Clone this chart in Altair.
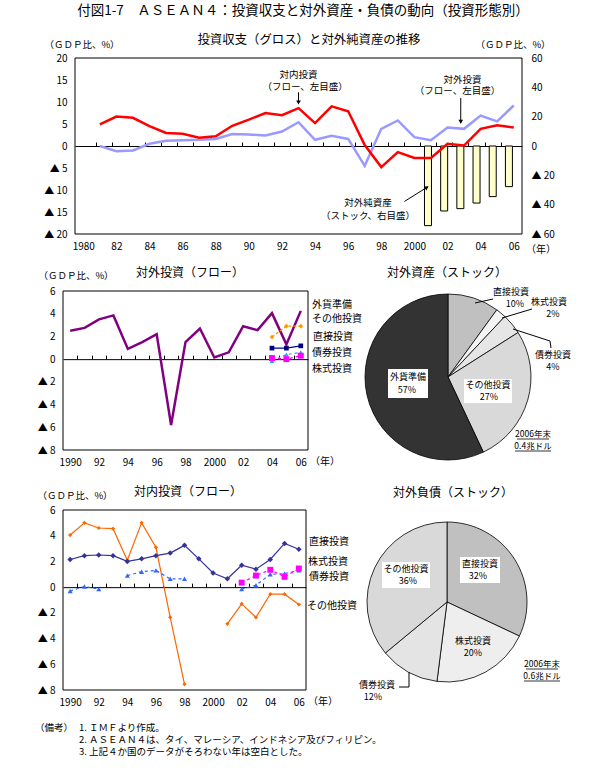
import altair as alt
import pandas as pd

FONT = "Noto Sans CJK JP"
CW, CH = 605, 771

# ---------------- data ----------------
years_top = list(range(1981, 2007))
inward_gross = [4.9, 6.7, 6.4, 4.5, 2.95, 2.8, 1.9, 2.2, 4.6, 6.0, 7.5, 7.0, 8.6, 5.2,
                9.0, 7.9, 0.2, -4.8, -1.4, -2.7, -2.7, 0.5, 0.1, 3.9, 4.7, 4.2]
outward_gross = [0.0, -1.2, -1.0, 0.5, 1.2, 1.3, 1.4, 1.6, 2.7, 2.6, 2.4, 3.3, 5.4, 1.4,
                 2.3, 1.6, -4.5, 3.9, 5.8, 2.0, 1.3, 4.2, 3.9, 6.9, 5.6, 9.2]
years_net = [2001, 2002, 2003, 2004, 2005, 2006]
net_external_assets = [-54.3, -44.3, -42.7, -38.9, -34.5, -27.7]

years_flow = list(range(1990, 2007))
out_reserves = [2.5, 2.75, 3.5, 3.85, 0.9, 1.5, 2.2, -5.8, 1.5, 2.7, 0.15, 0.6, 2.9,
                2.55, 4.05, 1.3, 4.25]
years_out_detail = [2004, 2005, 2006]
out_other = [1.95, 2.9, 2.9]
out_direct = [0.97, 0.97, 1.17]
out_bond = [-0.15, 0.4, 0.6]
out_equity = [0.1, 0.0, 0.3]

in_direct = [2.15, 2.45, 2.5, 2.45, 2.0, 2.2, 2.45, 2.65, 3.25, 2.2, 1.1, 0.65, 1.7,
             1.4, 2.15, 3.4, 2.95]
in_other = [4.05, 5.0, 4.6, 4.55, 2.1, 5.0, 3.1, -2.35, -7.55, None, None, -2.85, -1.3,
            -2.35, -0.55, -0.55, -1.35]
in_bond = [-0.3, 0.05, -0.15, None, 0.9, 1.2, 1.3, 0.65, 0.65, None, None, None, -0.15,
           0.15, 1.0, 1.05, 1.3]
in_equity = [None] * 12 + [0.35, 0.9, 1.35, 0.8, 1.45]

top_xlabels = ["1980", "82", "84", "86", "88", "90", "92", "94", "96", "98", "2000",
               "02", "04", "06"]
flow_xlabels = ["1990", "92", "94", "96", "98", "2000", "02", "04", "06"]

asset_cats = ["直接投資", "株式投資", "債券投資", "その他投資", "外貨準備"]
asset_shares = [10, 2, 4, 27, 57]
asset_colors = ["#c0c0c0", "#f4f4f4", "#e6e6e6", "#d9d9d9", "#333333"]
liab_cats = ["直接投資", "株式投資", "債券投資", "その他投資"]
liab_shares = [32, 20, 12, 36]
liab_colors = ["#c0c0c0", "#eeeeee", "#e4e4e4", "#d9d9d9"]

note_head = "（備考）"
note_lines = ["1.  ＩＭＦより作成。",
              "2.  ＡＳＥＡＮ４は、タイ、マレーシア、インドネシア及びフィリピン。",
              "3.  上記４か国のデータがそろわない年は空白とした。"]

# ---------------- panel frames (pixels) ----------------
P1 = dict(x0=75, x1=522, y0=58, y1=234)
P2 = dict(x0=63, x1=308, y0=291, y1=450)
P3 = dict(x0=63, x1=306, y0=510, y1=690)
PIE1 = (448, 377, 83)
PIE2 = (447, 602, 80)


# ---------------- helpers ----------------
def series_df(years, values):
    rows, seg = [], 0
    for y, v in zip(years, values):
        if v is None:
            seg += 1
            continue
        rows.append({"year": y, "value": v, "seg": seg})
    return pd.DataFrame(rows)


def xs(dom, P):
    return alt.Scale(domain=dom, range=[P["x0"], P["x1"]], nice=False, zero=False)


def ys(dom, P):
    return alt.Scale(domain=dom, range=[P["y1"], P["y0"]], nice=False, zero=False)


def label_axis(labels, start, P, pad):
    arr = "[" + ",".join("'%s'" % s for s in labels) + "]"
    return alt.Axis(orient="bottom", offset=P["y1"] - CH,
                    values=[start + 2 * i for i in range(len(labels))],
                    labelExpr=arr + "[round((datum.value - %d) / 2)]" % start,
                    ticks=False, domain=False, grid=False, labelPadding=pad,
                    title=None, labelFlush=False, labelOverlap=False)


def zero_axis(ypix, start, end):
    return alt.Axis(orient="top", offset=-ypix,
                    values=[y + 0.5 for y in range(start, end)],
                    labels=False, ticks=True, tickSize=4, tickColor="black",
                    domain=True, domainColor="black", domainWidth=1,
                    grid=False, title=None)


def tri_axis(vals, xpix, orient="left", pad=8):
    off = -xpix if orient == "left" else xpix - CW
    return alt.Axis(orient=orient, offset=off, values=list(vals),
                    labelExpr="datum.value < 0 ? '▲ ' + (-datum.value) : '' + datum.value",
                    ticks=False, domain=False, grid=False, labelPadding=pad,
                    title=None)


def pix_text(items, size=10, align="center"):
    df = pd.DataFrame(items, columns=["t", "px", "py"])
    return alt.Chart(df).mark_text(font=FONT, fontSize=size, align=align,
                                   baseline="middle", color="black").encode(
        x=alt.X("px:Q", scale=None, axis=None),
        y=alt.Y("py:Q", scale=None, axis=None),
        text="t:N")


def pix_rule(items, width=1.0):
    df = pd.DataFrame(items, columns=["x", "y", "x2", "y2"])
    return alt.Chart(df).mark_rule(color="black", strokeWidth=width).encode(
        x=alt.X("x:Q", scale=None, axis=None), y=alt.Y("y:Q", scale=None, axis=None),
        x2="x2:Q", y2="y2:Q")


def pix_rect(items, fill="white", stroke="transparent"):
    df = pd.DataFrame(items, columns=["x", "y", "x2", "y2"])
    return alt.Chart(df).mark_rect(fill=fill, stroke=stroke, strokeWidth=1).encode(
        x=alt.X("x:Q", scale=None, axis=None), y=alt.Y("y:Q", scale=None, axis=None),
        x2="x2:Q", y2="y2:Q")


def frame(P):
    return pix_rect([(P["x0"], P["y0"], P["x1"], P["y1"])], fill="transparent",
                    stroke="black")


# ---------------- top panel ----------------
XD1, YL1, YR1 = [1979.5, 2006.5], [-20, 20], [-60, 60]
ZERO1 = P1["y0"] + (P1["y1"] - P1["y0"]) / 2

df_net = pd.DataFrame({"year": years_net, "value": net_external_assets})
bars = alt.Chart(df_net).mark_bar(size=7, color="#ffffcc", stroke="black",
                                   strokeWidth=1).encode(
    x=alt.X("year:Q", scale=xs(XD1, P1), axis=zero_axis(ZERO1, 1980, 2006)),
    y=alt.Y("value:Q", scale=ys(YR1, P1),
            axis=tri_axis(range(-60, 61, 20), P1["x1"], "right", 9)),
    y2=alt.datum(0))

blue_top = alt.Chart(series_df(years_top, outward_gross)).mark_line(
    color="#9999ff", strokeWidth=2.5).encode(
    x=alt.X("year:Q", scale=xs(XD1, P1), axis=label_axis(top_xlabels, 1980, P1, 7)),
    y=alt.Y("value:Q", scale=ys(YL1, P1), axis=tri_axis(range(-20, 21, 5), P1["x0"])))
red_top = alt.Chart(series_df(years_top, inward_gross)).mark_line(
    color="#ff0000", strokeWidth=2.5).encode(
    x=alt.X("year:Q", scale=xs(XD1, P1), axis=None),
    y=alt.Y("value:Q", scale=ys(YL1, P1), axis=None))

ann_df = pd.DataFrame([
    ("対内投資", 1993.0, 16.2), ("（フロー、左目盛）", 1993.4, 13.5),
    ("対外投資", 2002.9, 15.1), ("（フロー、左目盛）", 2002.6, 12.4),
    ("対外純資産", 1997.2, -12.9), ("（ストック、右目盛）", 1997.2, -15.8)],
    columns=["t", "year", "value"])
ann_text = alt.Chart(ann_df).mark_text(font=FONT, fontSize=9.5, color="black").encode(
    x=alt.X("year:Q", scale=xs(XD1, P1), axis=None),
    y=alt.Y("value:Q", scale=ys(YL1, P1), axis=None), text="t:N")
arrow_df = pd.DataFrame([(1993.0, 12.2, 1993.0, 9.6), (2002.8, 10.9, 2002.8, 5.2),
                         (1999.4, -12.6, 2000.8, -9.3)],
                        columns=["year", "value", "year2", "value2"])
arrows = alt.Chart(arrow_df).mark_rule(color="black", strokeWidth=1).encode(
    x=alt.X("year:Q", scale=xs(XD1, P1), axis=None),
    y=alt.Y("value:Q", scale=ys(YL1, P1), axis=None), x2="year2:Q", y2="value2:Q")
head_df = pd.DataFrame([(1993.0, 9.9, 180), (2002.8, 5.5, 180), (2000.75, -9.4, 56)],
                       columns=["year", "value", "ang"])
heads = alt.Chart(head_df).mark_point(shape="triangle-up", size=22, filled=True,
                                      color="black", opacity=1).encode(
    x=alt.X("year:Q", scale=xs(XD1, P1), axis=None),
    y=alt.Y("value:Q", scale=ys(YL1, P1), axis=None),
    angle=alt.Angle("ang:Q", scale=None))

top_layers = [
    frame(P1), bars, blue_top, red_top, arrows, heads, ann_text,
    pix_text([("付図1-7　ＡＳＥＡＮ４：投資収支と対外資産・負債の動向（投資形態別）",
               303, 11)], size=13.5),
    pix_text([("投資収支（グロス）と対外純資産の推移", 309, 40)], size=12.4),
    pix_text([("（ＧＤＰ比、%）", 82, 45), ("（ＧＤＰ比、%）", 513, 45)], size=9.5),
    pix_text([("（年）", 541, 250)], size=10),
]

# ---------------- flow panels ----------------
XD2, YD = [1989.5, 2006.5], [-8, 6]


def flow_line(df, P, color, width, dash=None, shape=None, psize=20, xaxis=None,
              yaxis=None):
    kw = dict(color=color, strokeWidth=width)
    if dash:
        kw["strokeDash"] = dash
    if shape:
        kw["point"] = alt.OverlayMarkDef(shape=shape, size=psize, filled=True,
                                         color=color, opacity=1)
    return alt.Chart(df).mark_line(**kw).encode(
        x=alt.X("year:Q", scale=xs(XD2, P), axis=xaxis),
        y=alt.Y("value:Q", scale=ys(YD, P), axis=yaxis),
        detail="seg:N")


ZERO2 = P2["y0"] + (P2["y1"] - P2["y0"]) * 6 / 14
p2_layers = [
    frame(P2),
    flow_line(series_df(years_flow, out_reserves), P2, "#800080", 2.5,
              xaxis=label_axis(flow_xlabels, 1990, P2, 7),
              yaxis=tri_axis(range(-8, 7, 2), P2["x0"])),
    flow_line(series_df(years_out_detail, out_other), P2, "#ff9900", 1.2, [3, 2],
              "diamond", 22, xaxis=zero_axis(ZERO2, 1990, 2006)),
    flow_line(series_df(years_out_detail, out_direct), P2, "#000080", 1.2, None,
              "square", 22),
    flow_line(series_df(years_out_detail, out_bond), P2, "#3399ff", 1.2, [3, 3],
              "triangle-up", 25),
    flow_line(series_df(years_out_detail, out_equity), P2, "#ff00ff", 1.2, [3, 3],
              "square", 35),
    pix_text([("対外投資（フロー）", 190, 273)], size=12),
    pix_text([("（ＧＤＰ比、%）", 76, 276)], size=9.5),
    pix_text([("（年）", 325, 462)], size=10),
    pix_text([("外貨準備", 312, 305), ("その他投資", 312, 319), ("直接投資", 313, 337),
              ("債券投資", 312, 353), ("株式投資", 312, 369)], size=10, align="left"),
]

ZERO3 = P3["y0"] + (P3["y1"] - P3["y0"]) * 6 / 14
note_items = [(note_head, 35, 728), (note_lines[0], 79, 728),
              (note_lines[1], 79, 740), (note_lines[2], 79, 752)]
p3_layers = [
    frame(P3),
    flow_line(series_df(years_flow, in_other), P3, "#ff6600", 1.2, None, "diamond", 18,
              xaxis=label_axis(flow_xlabels, 1990, P3, 7),
              yaxis=tri_axis(range(-8, 7, 2), P3["x0"])),
    flow_line(series_df(years_flow, in_direct), P3, "#333399", 1.2, None, "diamond", 30,
              xaxis=zero_axis(ZERO3, 1990, 2006)),
    flow_line(series_df(years_flow, in_bond), P3, "#3366ff", 1.2, [3, 3],
              "triangle-up", 25),
    flow_line(series_df(years_flow, in_equity), P3, "#ff00ff", 1.2, [3, 3], "square", 35),
    pix_text([("対内投資（フロー）", 188, 492)], size=12),
    pix_text([("（ＧＤＰ比、%）", 75, 496)], size=9.5),
    pix_text([("（年）", 323, 702)], size=10),
    pix_text([("直接投資", 309, 542), ("株式投資", 308, 562), ("債券投資", 309, 577),
              ("その他投資", 307, 606)], size=10, align="left"),
    pix_text(note_items, size=9.5, align="left"),
]


# ---------------- pies ----------------
def pie(cats, shares, colors, spec):
    cx, cy, r = spec
    df = pd.DataFrame({"cat": cats, "share": shares, "idx": list(range(len(cats)))})
    return alt.Chart(df).mark_arc(outerRadius=r, stroke="black", strokeWidth=0.8).encode(
        theta=alt.Theta("share:Q", stack=True),
        color=alt.Color("cat:N", scale=alt.Scale(domain=cats, range=colors), legend=None),
        order=alt.Order("idx:Q"),
        x=alt.value(cx), y=alt.value(cy))


pie1_layers = [
    pie(asset_cats, asset_shares, asset_colors, PIE1),
    pix_rule([(475, 303, 493, 299), (502, 318, 532, 309), (513, 329, 550, 341),
              (550, 341, 551, 348)]),
    pix_rect([(464, 379, 512, 403), (388, 369, 428, 398)]),
    pix_text([("直接投資", 511, 292), ("10%", 515, 304), ("株式投資", 549, 302),
              ("2%", 553, 314), ("債券投資", 553, 355), ("4%", 553, 367),
              ("その他投資", 488, 385), ("27%", 489, 397), ("外貨準備", 408, 377),
              ("57%", 407, 390)], size=9),
    pix_text([("2006年末", 533, 434), ("0.4兆ドル", 533, 446)], size=8.5),
    pix_rule([(517, 439, 549, 439), (515, 451, 551, 451)], 0.8),
    pix_text([("対外資産（ストック）", 447, 273)], size=12),
]

pie2_layers = [
    pie(liab_cats, liab_shares, liab_colors, PIE2),
    pix_rule([(399, 687, 409, 687), (409, 687, 409, 672)]),
    pix_rect([(460, 557, 500, 583), (382, 562, 430, 588)]),
    pix_text([("直接投資", 480, 564), ("32%", 478, 576), ("その他投資", 406, 569),
              ("36%", 408, 581), ("株式投資", 473, 641), ("20%", 473, 653),
              ("債券投資", 377, 685), ("12%", 373, 697)], size=9),
    pix_text([("2006年末", 542, 664), ("0.6兆ドル", 542, 676)], size=8.5),
    pix_rule([(526, 669, 558, 669), (524, 681, 560, 681)], 0.8),
    pix_text([("対外負債（ストック）", 453, 493)], size=12),
]

# ---------------- assembly ----------------
chart = alt.layer(*(top_layers + p2_layers + p3_layers + pie1_layers + pie2_layers)
                  ).resolve_scale(x="independent", y="independent", theta="independent",
                                  color="independent").properties(
    width=CW, height=CH, padding=0, autosize=alt.AutoSizeParams(type="none"),
    background="white",
).configure_view(strokeOpacity=0).configure_axis(
    labelFont=FONT, labelFontSize=10, labelColor="black")

chart.save("out.html", embed_options={"renderer": "svg", "actions": False})
